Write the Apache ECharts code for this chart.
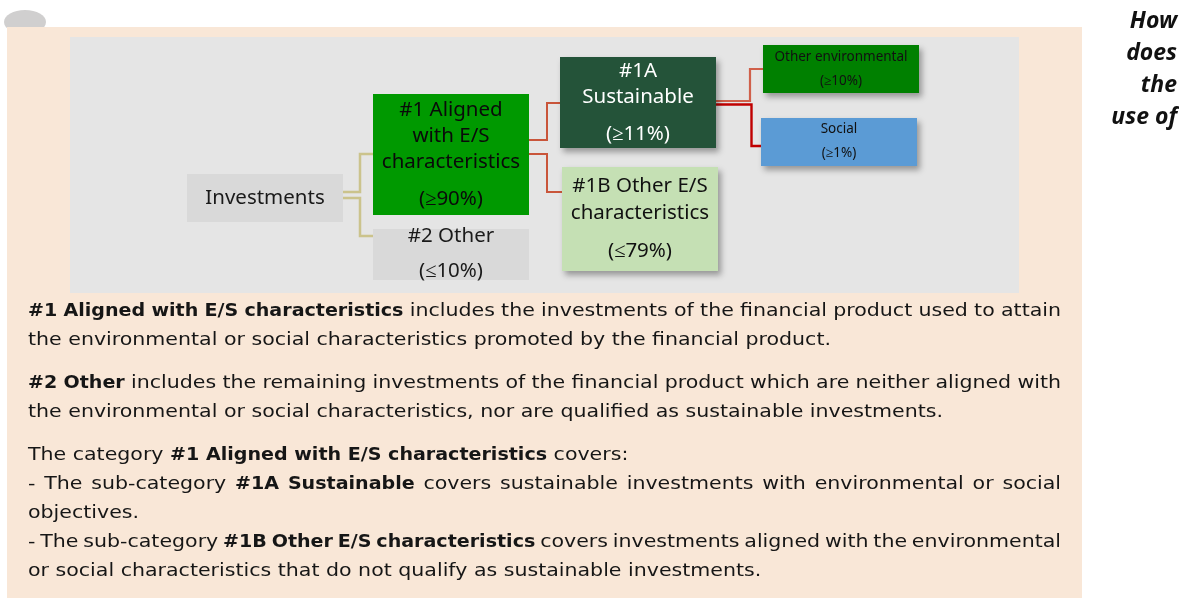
<!DOCTYPE html>
<html><head><meta charset="utf-8">
<script src="https://cdn.jsdelivr.net/npm/echarts@6/dist/echarts.min.js"></script>
<style>html,body{margin:0;padding:0;background:#fff;}#c{width:1179px;height:601px;}</style>
</head><body><div id="c"></div>
<script>
// ---------- data ----------
const nodeNames = ['Investments', '#1 Aligned with E/S characteristics', '#2 Other', '#1A Sustainable', '#1B Other E/S characteristics', 'Other environmental', 'Social'];
const nodeShares = ['', '≥90%', '≤10%', '≥11%', '≤79%', '≥10%', '≥1%'];
const links = [[0, 1], [0, 2], [1, 3], [1, 4], [3, 5], [3, 6]];
const sideHeading = ['How', 'does', 'the', 'use of'];
const bodyLines = [
  [[1, '#1 Aligned with E/S characteristics'], [0, ' includes the investments of the financial product used to attain']],
  [[0, 'the environmental or social characteristics promoted by the financial product.']],
  [[1, '#2 Other'], [0, ' includes the remaining investments of the financial product which are neither aligned with']],
  [[0, 'the environmental or social characteristics, nor are qualified as sustainable investments.']],
  [[0, 'The category '], [1, '#1 Aligned with E/S characteristics'], [0, ' covers:']],
  [[0, '- The sub-category '], [1, '#1A Sustainable'], [0, ' covers sustainable investments with environmental or social']],
  [[0, 'objectives.']],
  [[0, '- The sub-category '], [1, '#1B Other E/S characteristics'], [0, ' covers investments aligned with the environmental']],
  [[0, 'or social characteristics that do not qualify as sustainable investments.']]
];
const bodyJustify = [1, 0, 1, 0, 0, 1, 0, 1, 0];

// ---------- layout (positions / styles) ----------
const W = 1179, H = 601;
const nodeLayout = [
  { box: [187, 174, 343, 222], fill: '#d9d9d9', color: '#1a1a1a', size: 20.5, wrap: [1], ys: [198] },
  { box: [373, 94, 529, 215], fill: '#009900', color: '#0a0a0a', size: 20.5, wrap: [2, 2, 1], ys: [110, 136, 162, 199] },
  { box: [373, 229, 529, 280], fill: '#d9d9d9', color: '#1a1a1a', size: 20.5, wrap: [2], ys: [236, 271] },
  { box: [560, 57, 716, 148], fill: '#245339', color: '#ffffff', size: 20.5, wrap: [1, 1], ys: [71, 97, 134], shadow: true },
  { box: [562, 167, 718, 271], fill: '#c5e0b4', color: '#111111', size: 20.5, wrap: [3, 1], ys: [186, 213, 251], shadow: true },
  { box: [763, 45, 919, 93], fill: '#008000', color: '#111111', size: 13.5, wrap: [2], ys: [57, 81], shadow: true },
  { box: [761, 118, 917, 166], fill: '#5b9bd5', color: '#111111', size: 13.5, wrap: [1], ys: [129, 153], shadow: true }
];
const linkLayout = [
  { pts: [[343, 192], [360, 192], [360, 154], [373, 154]], color: '#cbc38c', width: 2.5 },
  { pts: [[343, 198], [360, 198], [360, 236], [373, 236]], color: '#cbc38c', width: 2.5 },
  { pts: [[529, 140], [547, 140], [547, 103], [560, 103]], color: '#c9553a', width: 2 },
  { pts: [[529, 154], [547, 154], [547, 192], [562, 192]], color: '#c9553a', width: 2 },
  { pts: [[716, 101], [750, 101], [750, 69], [763, 69]], color: '#d0604a', width: 2.2 },
  { pts: [[716, 104.5], [751.5, 104.5], [751.5, 146], [761, 146]], color: '#c00000', width: 2.4 }
];
const bodyY = [311, 340, 383, 412, 455, 484, 513, 542, 571];
const BODY_X = 28, BODY_R = 1061;
const FIT_NORMAL = ['the environmental or social characteristics promoted by the financial product.', 803];
const FIT_BOLD = ['#1 Aligned with E/S characteristics', 377];
const BODY_FAMILY = '"DejaVu Sans"', BODY_SIZE = 17.5;
const NODE_FAMILY = '"Noto Sans"';

const mctx = document.createElement('canvas').getContext('2d');
function bfont(bold) { return (bold ? 'bold ' : 'normal ') + BODY_SIZE + 'px ' + BODY_FAMILY; }
function rawMeasure(t, bold) { mctx.font = bfont(bold); return mctx.measureText(t).width; }
const SXN = FIT_NORMAL[1] / rawMeasure(FIT_NORMAL[0], 0);
const SXB = FIT_BOLD[1] / rawMeasure(FIT_BOLD[0], 1);
function sx(bold) { return bold ? SXB : SXN; }
function measure(t, bold) { return rawMeasure(t, bold) * sx(bold); }
function bodyText(t, x, y, bold) {
  return { type: 'text', z: 5, x: x, y: y, scaleX: sx(bold), style: { text: t, x: 0, y: 0, font: bfont(bold), fill: '#161616', align: 'left', textAlign: 'left', verticalAlign: 'middle', textVerticalAlign: 'middle' } };
}

const graphics = [
  { type: 'ellipse', z: -30, shape: { cx: 25, cy: 22, rx: 21, ry: 12 }, style: { fill: '#d0cfcf' } },
  { type: 'rect', z: -20, shape: { x: 7, y: 27, width: 1075, height: 571 }, style: { fill: '#f9e7d7' } },
  { type: 'rect', z: -10, shape: { x: 70, y: 37, width: 949, height: 256 }, style: { fill: '#e5e5e5' } }
];
sideHeading.forEach((t, i) => {
  graphics.push({ type: 'text', z: 5, style: { text: t, x: 1177, y: 21 + i * 32, font: 'italic bold 23px "Noto Sans"', fill: '#111', align: 'right', textAlign: 'right', verticalAlign: 'middle', textVerticalAlign: 'middle' } });
});
bodyLines.forEach((segs, li) => {
  const y = bodyY[li];
  if (bodyJustify[li]) {
    const words = [];
    segs.forEach(([b, s]) => s.split(' ').filter(w => w).forEach(w => words.push([b, w])));
    const widths = words.map(([b, w]) => measure(w, b));
    const total = widths.reduce((a, c) => a + c, 0);
    const gap = (BODY_R - BODY_X - total) / (words.length - 1);
    let x = BODY_X;
    words.forEach(([b, w], k) => { graphics.push(bodyText(w, x, y, b)); x += widths[k] + gap; });
  } else {
    let x = BODY_X;
    segs.forEach(([b, s]) => { graphics.push(bodyText(s, x, y, b)); x += measure(s, b); });
  }
});

const chart = echarts.init(document.getElementById('c'));
chart.setOption({
  animation: false,
  backgroundColor: '#ffffff',
  grid: { left: 0, right: 0, top: 0, bottom: 0 },
  xAxis: { type: 'value', min: 0, max: W, show: false },
  yAxis: { type: 'value', min: 0, max: H, inverse: true, show: false },
  graphic: graphics,
  series: [
    {
      type: 'custom', coordinateSystem: 'cartesian2d', z: 2,
      data: links.map((l, i) => [i, 0]),
      renderItem: function (params, api) {
        const L = linkLayout[api.value(0)];
        return { type: 'polyline', shape: { points: L.pts.map(p => api.coord(p)) }, style: { stroke: L.color, lineWidth: L.width, fill: null } };
      }
    },
    {
      type: 'custom', coordinateSystem: 'cartesian2d', z: 3,
      data: nodeNames.map((n, i) => [i, 0]),
      renderItem: function (params, api) {
        const i = api.value(0);
        const L = nodeLayout[i];
        const p0 = api.coord([L.box[0], L.box[1]]), p1 = api.coord([L.box[2], L.box[3]]);
        const words = nodeNames[i].split(' ');
        const lines = []; let k = 0;
        L.wrap.forEach(c => { lines.push(words.slice(k, k + c).join(' ')); k += c; });
        if (nodeShares[i]) lines.push('(' + nodeShares[i] + ')');
        const cx = (p0[0] + p1[0]) / 2;
        const children = [{
          type: 'rect', shape: { x: p0[0], y: p0[1], width: p1[0] - p0[0], height: p1[1] - p0[1] },
          style: L.shadow ? { fill: L.fill, shadowBlur: 6, shadowOffsetX: 3, shadowOffsetY: 4, shadowColor: 'rgba(0,0,0,0.35)' } : { fill: L.fill }
        }];
        lines.forEach((t, j) => {
          const py = api.coord([0, L.ys[j]])[1];
          children.push({ type: 'text', style: { text: t, x: cx, y: py, font: L.size + 'px ' + NODE_FAMILY, fill: L.color, align: 'center', textAlign: 'center', verticalAlign: 'middle', textVerticalAlign: 'middle' } });
        });
        return { type: 'group', children: children };
      }
    }
  ]
});
</script></body></html>
